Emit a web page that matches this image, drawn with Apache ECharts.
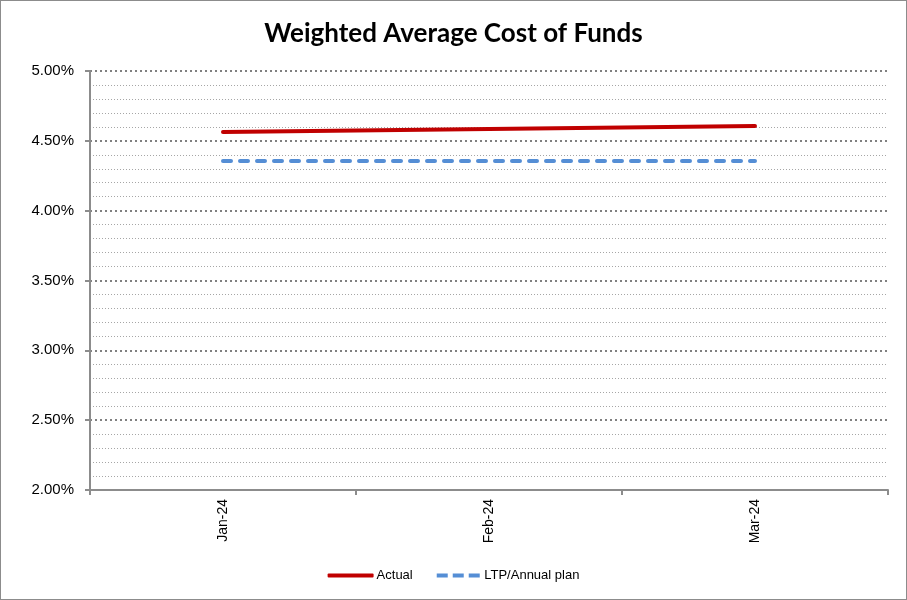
<!DOCTYPE html>
<html><head><meta charset="utf-8">
<script src="https://cdn.jsdelivr.net/npm/echarts@6/dist/echarts.min.js"></script>
<style>html,body{margin:0;padding:0;background:#fff}#c{width:907px;height:600px;box-sizing:border-box;border:1px solid #8c8c8c}</style>
</head><body><div id="c"></div>
<script>
const categories = ['Jan-24', 'Feb-24', 'Mar-24'];
const actual = [4.563, 4.585, 4.606];
const plan = [4.355, 4.355, 4.355];
const chart = echarts.init(document.getElementById('c'));
chart.setOption({
  animation: false,
  title: { text: 'Weighted Average Cost of Funds', left: 'center', top: 15,
    textStyle: { fontFamily: 'Lato', fontWeight: 'bold', fontSize: 26, color: '#000' } },
  grid: { left: 89, right: 18, top: 70, bottom: 109, containLabel: false },
  legend: { bottom: 12, left: 'center', itemWidth: 46, itemHeight: 4, itemGap: 24,
    textStyle: { fontFamily: 'Liberation Sans', fontSize: 13, color: '#000', padding: [0,0,0,-2] },
    data: [
      { name: 'Actual', icon: 'roundRect' },
      { name: 'LTP/Annual plan', icon: 'path://M0,0h11v4h-11z M16,0h11v4h-11z M32,0h11v4h-11z' }
    ] },
  xAxis: { type: 'category', data: categories, boundaryGap: true,
    axisLine: { lineStyle: { color: '#8c8c8c', width: 2 } },
    axisTick: { show: true, length: 5, lineStyle: { color: '#8c8c8c', width: 2 } },
    axisLabel: { rotate: 90, margin: 9, fontFamily: 'Liberation Sans', fontSize: 14, color: '#000' },
    splitLine: { show: false } },
  yAxis: { type: 'value', min: 2, max: 5, interval: 0.5,
    axisLine: { show: true, lineStyle: { color: '#8c8c8c', width: 2 } },
    axisTick: { show: true, length: 5, lineStyle: { color: '#8c8c8c', width: 2 } },
    axisLabel: { formatter: v => v.toFixed(2) + '%', fontFamily: 'Liberation Sans', fontSize: 15, color: '#000', margin: 16 },
    splitLine: { show: true, lineStyle: { type: [2, 3], color: '#808080', width: 2 } },
    minorTick: { show: false, splitNumber: 5 },
    minorSplitLine: { show: true, lineStyle: { type: [1, 2], color: '#a6a6a6', width: 1 } } },
  series: [
    { name: 'Actual', type: 'line', data: actual, symbol: 'none',
      lineStyle: { color: '#C00000', width: 4, cap: 'round' }, itemStyle: { color: '#C00000' } },
    { name: 'LTP/Annual plan', type: 'line', data: plan, symbol: 'none',
      lineStyle: { color: '#558ED5', width: 4, type: [8, 9], cap: 'round' }, itemStyle: { color: '#558ED5' } }
  ]
});
</script></body></html>
